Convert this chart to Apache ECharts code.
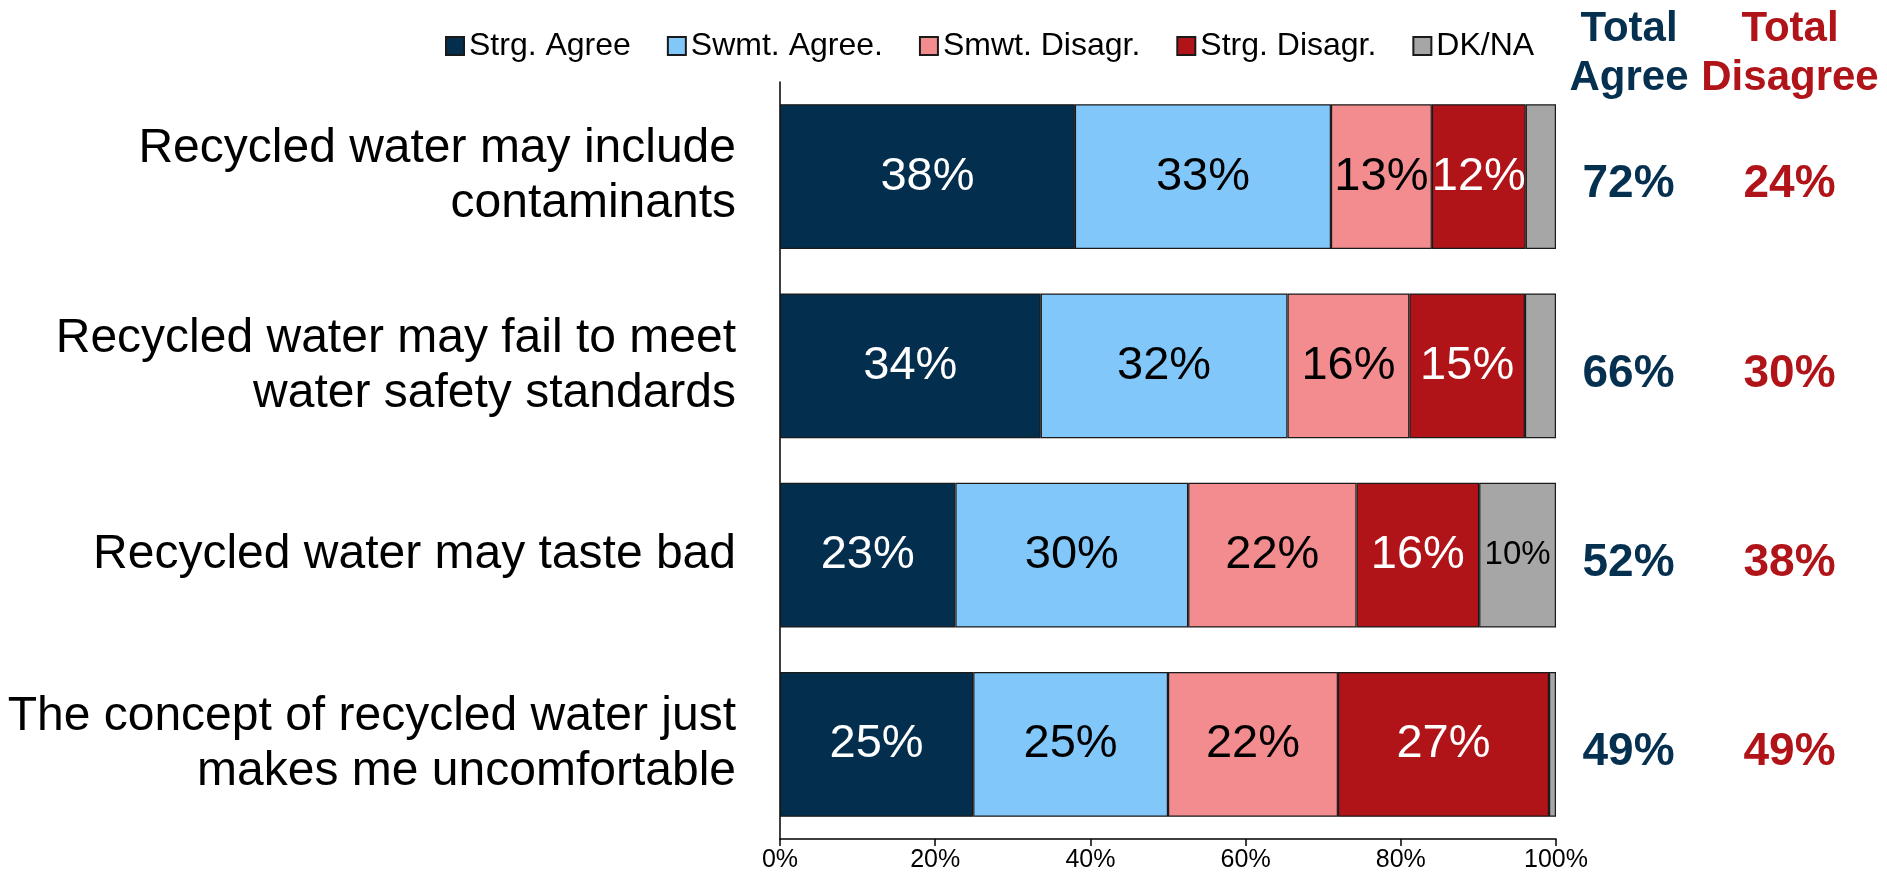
<!DOCTYPE html>
<html>
<head>
<meta charset="utf-8">
<title>Recycled water attitudes</title>
<script src="https://cdn.jsdelivr.net/npm/echarts@6/dist/echarts.min.js"></script>
<style>
  html, body { margin: 0; padding: 0; background: #ffffff; }
  #chart { width: 1887px; height: 874px; }
</style>
</head>
<body>
<div id="chart"></div>
<script>
// Survey statements (top to bottom)
const categories = [
  'Recycled water may include\ncontaminants',
  'Recycled water may fail to meet\nwater safety standards',
  'Recycled water may taste bad',
  'The concept of recycled water just\nmakes me uncomfortable'
];

// Response shares, percent of respondents
const strgAgree  = [38.0, 33.6, 22.6, 24.9];
const swmtAgree  = [33.0, 31.8, 30.0, 25.1];
const smwtDisagr = [13.0, 15.7, 21.7, 21.9];
const strgDisagr = [12.1, 14.9, 15.8, 27.2];
const dkNa       = [3.9, 4.0, 9.9, 0.9];

// Net totals shown beside each bar
const totalAgree    = [72, 66, 52, 49];
const totalDisagree = [24, 30, 38, 49];

// Axis ticks
const xTicks = [0, 20, 40, 60, 80, 100];

const seriesNames = ['Strg. Agree', 'Swmt. Agree.', 'Smwt. Disagr.', 'Strg. Disagr.', 'DK/NA'];
const seriesData  = [strgAgree, swmtAgree, smwtDisagr, strgDisagr, dkNa];
const fills       = ['#032E4E', '#82C7FA', '#F38C8F', '#B01318', '#A6A6A6'];
const labelInk    = ['#FFFFFF', '#000000', '#000000', '#FFFFFF', '#000000'];
const labelSize   = [47, 47, 47, 47, 33];
// segments narrower than this share carry no value label
const minLabelled = [0, 0, 0, 0, 5];

const NAVY = '#06304F';
const RED  = '#B01318';
const FONT = '"Liberation Sans", Arial, Helvetica, sans-serif';

const chart = echarts.init(document.getElementById('chart'), null, { renderer: 'canvas' });

const barSeries = seriesNames.map((name, k) => ({
  name: name,
  type: 'bar',
  stack: 'total',
  xAxisIndex: 0,
  yAxisIndex: 0,
  barCategoryGap: '23.5%',
  data: seriesData[k],
  itemStyle: { color: fills[k], borderColor: '#1A1A1A', borderWidth: 1.2 },
  label: {
    show: true,
    position: 'inside',
    fontFamily: FONT,
    fontSize: labelSize[k],
    color: labelInk[k],
    formatter: p => (p.value >= minLabelled[k] ? Math.round(p.value) + '%' : '')
  },
  emphasis: { disabled: true },
  animation: false
}));

function totalsSeries(name, col, values, color) {
  return {
    name: name,
    type: 'scatter',
    xAxisIndex: 1,
    yAxisIndex: 1,
    symbol: 'circle',
    symbolSize: 1,
    itemStyle: { color: 'rgba(0,0,0,0)', opacity: 1 },
    data: values.map((v, i) => [col, i, v]),
    label: {
      show: true,
      position: 'inside',
      offset: [0, 8],
      opacity: 1,
      fontFamily: FONT,
      fontWeight: 'bold',
      fontSize: 46,
      color: color,
      formatter: p => p.value[2] + '%'
    },
    emphasis: { disabled: true },
    animation: false
  };
}

const option = {
  backgroundColor: '#FFFFFF',
  animation: false,
  textStyle: { fontFamily: FONT },
  legend: {
    data: seriesNames,
    left: 440,
    top: 25,
    itemWidth: 18,
    itemHeight: 18,
    itemGap: 36,
    icon: 'rect',
    selectedMode: false,
    textStyle: { fontFamily: FONT, fontSize: 32, color: '#000000' }
  },
  grid: [
    { left: 780, right: 331, top: 82, bottom: 35, containLabel: false },
    { left: 1548, width: 322, top: 82, bottom: 35, containLabel: false }
  ],
  xAxis: [
    {
      type: 'value',
      gridIndex: 0,
      min: 0,
      max: 100,
      interval: 20,
      axisLine: { show: true, lineStyle: { color: '#000000', width: 1.5 } },
      axisTick: { show: true, length: 7, lineStyle: { color: '#000000', width: 1.5 } },
      splitLine: { show: false },
      axisLabel: {
        fontFamily: FONT,
        fontSize: 25,
        color: '#000000',
        margin: 9,
        customValues: xTicks,
        formatter: v => v + '%'
      }
    },
    {
      type: 'category',
      gridIndex: 1,
      data: ['Total Agree', 'Total Disagree'],
      show: false
    }
  ],
  yAxis: [
    {
      type: 'category',
      gridIndex: 0,
      inverse: true,
      data: categories,
      axisLine: { show: true, lineStyle: { color: '#000000', width: 1.5 } },
      axisTick: { show: false },
      axisLabel: {
        fontFamily: FONT,
        fontSize: 48,
        lineHeight: 55,
        color: '#000000',
        margin: 44,
        align: 'right'
      }
    },
    {
      type: 'category',
      gridIndex: 1,
      inverse: true,
      data: categories,
      show: false
    }
  ],
  graphic: [
    {
      type: 'text',
      x: 1629,
      y: 5,
      style: {
        text: 'Total\nAgree',
        fill: NAVY,
        fontFamily: FONT,
        fontWeight: 'bold',
        fontSize: 42,
        lineHeight: 49,
        textAlign: 'center',
        textVerticalAlign: 'top'
      }
    },
    {
      type: 'text',
      x: 1790,
      y: 5,
      style: {
        text: 'Total\nDisagree',
        fill: RED,
        fontFamily: FONT,
        fontWeight: 'bold',
        fontSize: 42,
        lineHeight: 49,
        textAlign: 'center',
        textVerticalAlign: 'top'
      }
    }
  ],
  series: barSeries.concat([
    totalsSeries('Total Agree', 0, totalAgree, NAVY),
    totalsSeries('Total Disagree', 1, totalDisagree, RED)
  ])
};

chart.setOption(option);
</script>
</body>
</html>
